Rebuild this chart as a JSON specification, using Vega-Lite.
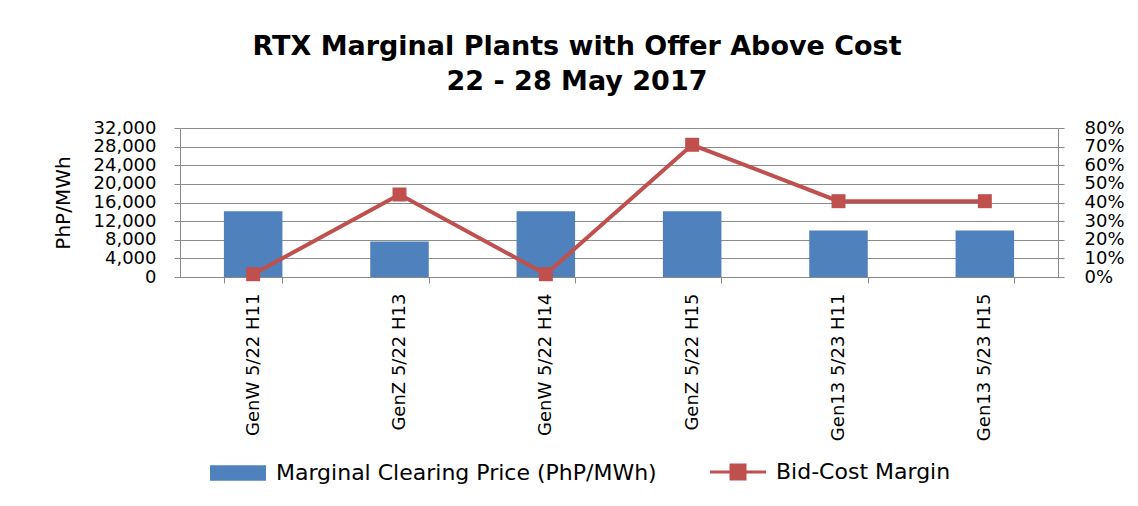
{
  "$schema": "https://vega.github.io/schema/vega-lite/v6.json",
  "width": 878,
  "height": 149,
  "autosize": {"type": "none"},
  "padding": {"left": 180, "top": 128, "right": 80, "bottom": 229},
  "background": "white",
  "config": {"view": {"stroke": null}},
  "title": {
    "text": ["RTX Marginal Plants with Offer Above Cost", "22 - 28 May 2017"],
    "font": "DejaVu Sans",
    "fontSize": 27,
    "fontWeight": "bold",
    "lineHeight": 35,
    "color": "#000000",
    "anchor": "middle",
    "frame": "group",
    "dx": -42,
    "offset": 23
  },
  "data": {
    "values": [
      {"plant": "GenW 5/22 H11", "price": 14100, "margin": 0.015},
      {"plant": "GenZ 5/22 H13", "price": 7600, "margin": 0.443},
      {"plant": "GenW 5/22 H14", "price": 14100, "margin": 0.015},
      {"plant": "GenZ 5/22 H15", "price": 14100, "margin": 0.71},
      {"plant": "Gen13 5/23 H11", "price": 10000, "margin": 0.407},
      {"plant": "Gen13 5/23 H15", "price": 10000, "margin": 0.407}
    ]
  },
  "encoding": {
    "x": {
      "field": "plant",
      "type": "nominal",
      "sort": null,
      "scale": {"paddingInner": 0.6, "paddingOuter": 0.3},
      "axis": {
        "title": null,
        "labelAngle": -90,
        "labelFont": "DejaVu Sans",
        "labelFontSize": 18,
        "labelColor": "#000000",
        "labelPadding": 10,
        "labelLimit": 300,
        "tickBand": "extent",
        "tickSize": 6,
        "tickColor": "#888888",
        "domainColor": "#888888"
      }
    }
  },
  "layer": [
    {
      "mark": {"type": "bar"},
      "encoding": {
        "y": {
          "field": "price",
          "type": "quantitative",
          "scale": {"domain": [0, 32000], "nice": false},
          "axis": {
            "title": "PhP/MWh",
            "titleFont": "DejaVu Sans",
            "titleFontSize": 20,
            "titleFontWeight": "normal",
            "titleColor": "#000000",
            "titlePadding": 20,
            "values": [0, 4000, 8000, 12000, 16000, 20000, 24000, 28000, 32000],
            "format": ",.0f",
            "labelFont": "DejaVu Sans",
            "labelFontSize": 18,
            "labelColor": "#000000",
            "labelOverlap": false,
            "labelBound": false,
            "labelFlush": false,
            "labelPadding": 18,
            "tickSize": 6,
            "tickColor": "#888888",
            "domainColor": "#888888",
            "grid": true,
            "gridColor": "#8c8c8c",
            "gridWidth": 1
          }
        },
        "color": {
          "datum": "Marginal Clearing Price (PhP/MWh)",
          "type": "nominal",
          "scale": {
            "domain": ["Marginal Clearing Price (PhP/MWh)", "Bid-Cost Margin"],
            "range": ["#4F81BD", "#C0504D"]
          },
          "legend": {
            "title": null,
            "orient": "none",
            "direction": "horizontal",
            "legendX": 47,
            "legendY": 333,
            "labelFont": "DejaVu Sans",
            "labelFontSize": 22,
            "labelColor": "#000000",
            "labelLimit": 500,
            "labelOffset": 27,
            "columnPadding": 47,
            "symbolSize": 3136,
            "encode": {
              "symbols": {
                "update": {
                  "shape": {"signal": "datum.value === 'Bid-Cost Margin' ? 'M-1,0H1M-0.25,-0.25H0.25V0.25H-0.25Z' : 'M-1,-0.28H1V0.28H-1Z'"},
                  "fill": {"signal": "datum.value === 'Bid-Cost Margin' ? '#C0504D' : '#4F81BD'"},
                  "stroke": {"signal": "datum.value === 'Bid-Cost Margin' ? '#C0504D' : '#4F81BD'"},
                  "strokeWidth": {"signal": "datum.value === 'Bid-Cost Margin' ? 3 : 0"},
                  "opacity": {"value": 1},
                  "fillOpacity": {"value": 1},
                  "strokeOpacity": {"value": 1}
                }
              }
            }
          }
        }
      }
    },
    {
      "mark": {
        "type": "line",
        "strokeWidth": 4,
        "point": {"shape": "square", "size": 196, "filled": true, "opacity": 1}
      },
      "encoding": {
        "y": {
          "field": "margin",
          "type": "quantitative",
          "scale": {"domain": [0, 0.8], "nice": false},
          "axis": {
            "orient": "right",
            "title": null,
            "values": [0, 0.1, 0.2, 0.3, 0.4, 0.5, 0.6, 0.7, 0.8],
            "format": ".0%",
            "labelFont": "DejaVu Sans",
            "labelFontSize": 18,
            "labelColor": "#000000",
            "labelOverlap": false,
            "labelBound": false,
            "labelFlush": false,
            "labelPadding": 20,
            "tickSize": 6,
            "tickColor": "#888888",
            "domainColor": "#888888",
            "grid": false
          }
        },
        "color": {"datum": "Bid-Cost Margin", "type": "nominal"}
      }
    }
  ],
  "resolve": {"scale": {"y": "independent"}}
}
